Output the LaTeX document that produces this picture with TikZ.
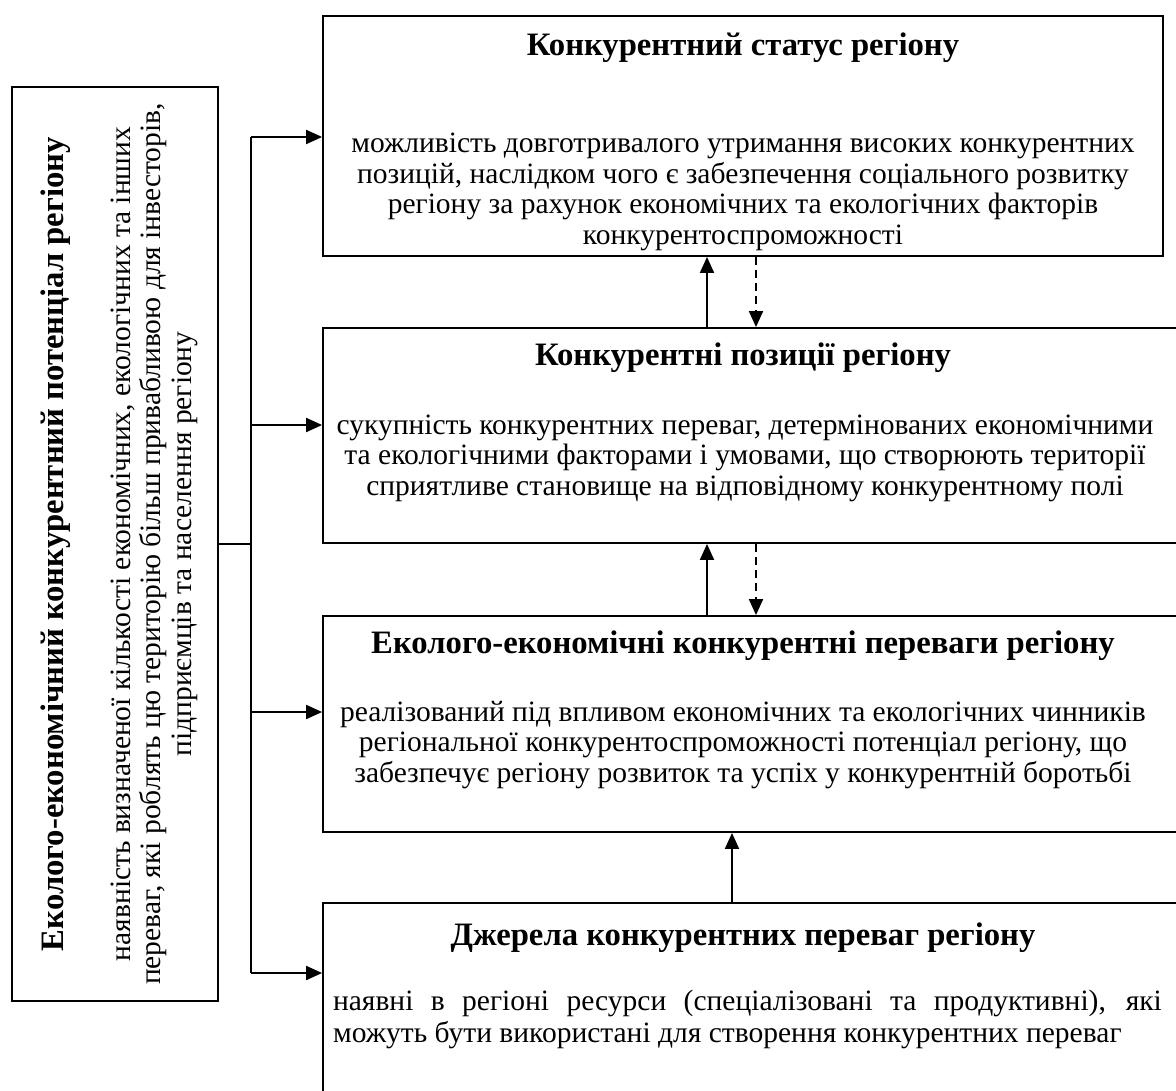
\documentclass[tikz,border=0pt]{standalone}
\usepackage{fontspec}
\setmainfont{Liberation Serif}
\usetikzlibrary{arrows.meta}

\begin{document}
\begin{tikzpicture}[x=0.02cm, y=-0.02cm,
  panel/.style={draw, line width=1.1pt, inner sep=0pt},
  heading/.style={font=\fontsize{18.6}{21}\selectfont\bfseries, inner sep=0pt},
  body/.style={font=\fontsize{16.8}{17.35}\selectfont, align=center, inner sep=0pt},
  arr/.style={line width=1.1pt, -{Triangle[length=0.32cm, width=0.28cm]}},
  backarr/.style={arr, dash pattern=on 4.5pt off 3pt}]
\useasboundingbox (0,0) rectangle (1176,1091);
\clip (0,0) rectangle (1176,1091);

% блоки
\node[panel, minimum width=4.12cm, minimum height=18.28cm] (potential) at (115,544) {};
\node[panel, minimum width=16.8cm, minimum height=4.8cm] (status) at (743,136) {};
\node[panel, minimum width=17.34cm, minimum height=4.3cm] (positions) at (756.5,435.5) {};
\node[panel, minimum width=17.34cm, minimum height=4.32cm] (advantages) at (756.5,724) {};
\node[panel, minimum width=17.34cm, minimum height=4.14cm] (sources) at (756.5,1006.5) {};

% тексти
\node[heading, rotate=90] (potentialtitle) at (56,544) {Еколого-економічний конкурентний потенціал регіону};
\node[body, rotate=90] (potentialtext) at (154,544) {наявність визначеної кількості економічних, екологічних та інших\\
переваг, які роблять цю територію більш привабливою для інвесторів,\\
підприємців та населення регіону};

\node[heading] (statustitle) at (743,48) {Конкурентний статус регіону};
\node[body] (statustext) at (743,192) {можливість довготривалого утримання високих конкурентних\\
позицій, наслідком чого є забезпечення соціального розвитку\\
регіону за рахунок економічних та екологічних факторів\\
конкурентоспроможності};

\node[heading] (positionstitle) at (743,358) {Конкурентні позиції регіону};
\node[body] (positionstext) at (745,458) {сукупність конкурентних переваг, детермінованих економічними\\
та екологічними факторами і умовами, що створюють території\\
сприятливе становище на відповідному конкурентному полі};

\node[heading] (advantagestitle) at (743,646) {Еколого-економічні конкурентні переваги регіону};
\node[body] (advantagestext) at (743,745) {реалізований під впливом економічних та екологічних чинників\\
регіональної конкурентоспроможності потенціал регіону, що\\
забезпечує регіону розвиток та успіх у конкурентній боротьбі};

\node[heading] (sourcestitle) at (743,938) {Джерела конкурентних переваг регіону};
\node[body, font=\fontsize{16.8}{18.2}\selectfont, align=justify, text width=16.58cm] (sourcestext) at (747.5,1019) {наявні в регіоні ресурси (спеціалізовані та продуктивні), які\linebreak
можуть бути використані для створення конкурентних переваг};

% шина зліва
\coordinate (bus1) at (251,137);
\coordinate (bus2) at (251,425);
\coordinate (bus3) at (251,712);
\coordinate (bus4) at (251,973);
\draw[line width=1.1pt] (potential.east) -- (potential.east -| bus1);
\draw[line width=1.1pt] (bus1) -- (bus4);
\draw[arr] (bus1) -- (bus1 -| status.west);
\draw[arr] (bus2) -- (bus2 -| positions.west);
\draw[arr] (bus3) -- (bus3 -| advantages.west);
\draw[arr] (bus4) -- (bus4 -| sources.west);

% зв'язки між блоками
\coordinate (up) at (707,0);
\coordinate (down) at (756,0);
\coordinate (upsrc) at (732,0);
\draw[arr] (up |- positions.north) -- (up |- status.south);
\draw[backarr] (down |- status.south) -- (down |- positions.north);
\draw[arr] (up |- advantages.north) -- (up |- positions.south);
\draw[backarr] (down |- positions.south) -- (down |- advantages.north);
\draw[arr] (upsrc |- sources.north) -- (upsrc |- advantages.south);
\end{tikzpicture}
\end{document}
